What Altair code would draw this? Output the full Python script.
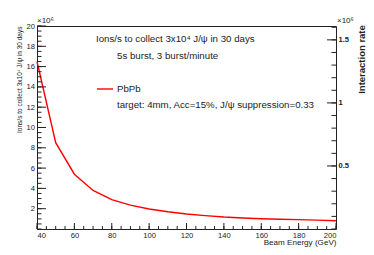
import altair as alt
import pandas as pd

# ---- data ----
energy = [40, 50, 60, 70, 80, 90, 100, 110, 120, 130, 140, 150, 160, 170, 180, 190, 200]
ions_rate = [16.5, 8.5, 5.4, 3.8, 2.9, 2.35, 1.97, 1.70, 1.48, 1.32, 1.18, 1.09, 1.01, 0.96, 0.92, 0.87, 0.82]

x_labels = [40, 60, 80, 100, 120, 140, 160, 180, 200]
x_minor = list(range(40, 201, 5))
left_labels = [2, 4, 6, 8, 10, 12, 14, 16, 18, 20]
left_minor = [v * 0.5 for v in range(0, 41)]
right_labels = [0.5, 1.0, 1.5]
right_minor = [round(v * 0.1, 1) for v in range(0, 17)]

title_top = "Ions/s to collect 3x10\u2074 J/\u03c8 in 30 days"
subtitle = "5s burst, 3 burst/minute"
legend_label = "PbPb"
note = "target: 4mm, Acc=15%, J/\u03c8 suppression=0.33"
left_title = "Ions/s to collect 3x10\u2074 J/\u03c8 in 30 days"
right_title = "Interaction rate"
x_title = "Beam Energy (GeV)"
exp_label = "\u00d710\u2076"

W, H = 299, 203
FONT = "Liberation Sans"
INK = "#222"

xs = alt.Scale(domain=[40, 200], nice=False)
ys = alt.Scale(domain=[0, 20], nice=False)
rs = alt.Scale(domain=[0, 1.61], nice=False)

x_axis = alt.Axis(
    values=x_labels, title=x_title, titleAnchor="end", titleFontSize=8.1,
    titleFontWeight="normal", titlePadding=0, labelFontSize=7.6, ticks=False,
    domain=False, grid=False, labelPadding=2, labelFont=FONT, titleFont=FONT,
    labelColor=INK, titleColor=INK)
y_axis = alt.Axis(
    values=left_labels, title=left_title, titleAnchor="end", titleFontSize=6.5,
    titleFontWeight="normal", titlePadding=4, labelFontSize=7.6, ticks=False,
    domain=False, grid=False, labelPadding=2.5, labelFont=FONT, titleFont=FONT,
    labelColor=INK, titleColor=INK)
r_axis = alt.Axis(
    orient="right", values=right_labels, title=right_title, titleAngle=270,
    titleAlign="center", titleBaseline="middle", titleX=25, titleY=33,
    titleFontSize=9.5, titleFontWeight="bold",
    labelFontSize=7.6, labelFontWeight="bold", ticks=False,
    domain=False, grid=False, labelPadding=2, labelFont=FONT, titleFont=FONT,
    labelColor=INK, titleColor=INK, format="~g")

df = pd.DataFrame({"E": energy, "rate": ions_rate})

line = alt.Chart(df).mark_line(color="#ff0000", strokeWidth=1.4).encode(
    x=alt.X("E:Q", scale=xs, axis=x_axis),
    y=alt.Y("rate:Q", scale=ys, axis=y_axis),
)

lmaj = alt.Chart(pd.DataFrame({"v": left_labels})).mark_rule(color=INK).encode(
    y=alt.Y("v:Q", scale=ys, axis=y_axis), x=alt.value(0), x2=alt.value(9))
lmin = alt.Chart(pd.DataFrame({"v": left_minor})).mark_rule(color=INK).encode(
    y=alt.Y("v:Q", scale=ys, axis=y_axis), x=alt.value(0), x2=alt.value(4.5))
xmaj = alt.Chart(pd.DataFrame({"v": x_labels})).mark_rule(color=INK).encode(
    x=alt.X("v:Q", scale=xs, axis=x_axis), y=alt.value(H), y2=alt.value(H - 6))
xmin = alt.Chart(pd.DataFrame({"v": x_minor})).mark_rule(color=INK).encode(
    x=alt.X("v:Q", scale=xs, axis=x_axis), y=alt.value(H), y2=alt.value(H - 3))

one = pd.DataFrame({"a": [0]})

def txt(s, px, py, size=9.7, weight="normal"):
    return alt.Chart(one).mark_text(text=s, align="left", baseline="middle",
                                    fontSize=size, font=FONT, color=INK,
                                    fontWeight=weight).encode(
        x=alt.value(px), y=alt.value(py))

t1 = txt(title_top, 59, 13)
t2 = txt(subtitle, 80, 30)
t3 = txt(legend_label, 80, 63)
t4 = txt(note, 80, 79)
e1 = txt(exp_label, 0, -5, size=8)
e2 = txt(exp_label, 300, -5, size=8)
leg = alt.Chart(one).mark_rule(color="#ff0000", strokeWidth=1.4).encode(
    x=alt.value(60), x2=alt.value(76), y=alt.value(63))

left_part = alt.layer(line, lmaj, lmin, xmaj, xmin, leg, t1, t2, t3, t4, e1, e2)

rmaj = alt.Chart(pd.DataFrame({"v": right_labels})).mark_rule(color=INK).encode(
    y=alt.Y("v:Q", scale=rs, axis=r_axis), x=alt.value(W), x2=alt.value(W - 9))
rmin = alt.Chart(pd.DataFrame({"v": right_minor})).mark_rule(color=INK).encode(
    y=alt.Y("v:Q", scale=rs, axis=r_axis), x=alt.value(W), x2=alt.value(W - 4.5))
right_part = alt.layer(rmaj, rmin)

chart = alt.layer(left_part, right_part).resolve_scale(y="independent").properties(
    width=W, height=H,
    autosize=alt.AutoSizeParams(type="none"),
    padding={"left": 29, "top": 18, "right": 30, "bottom": 28},
    background="white",
).configure_view(stroke=INK, strokeWidth=1)

chart.save("out.html", embed_options={"renderer": "svg", "actions": False})
